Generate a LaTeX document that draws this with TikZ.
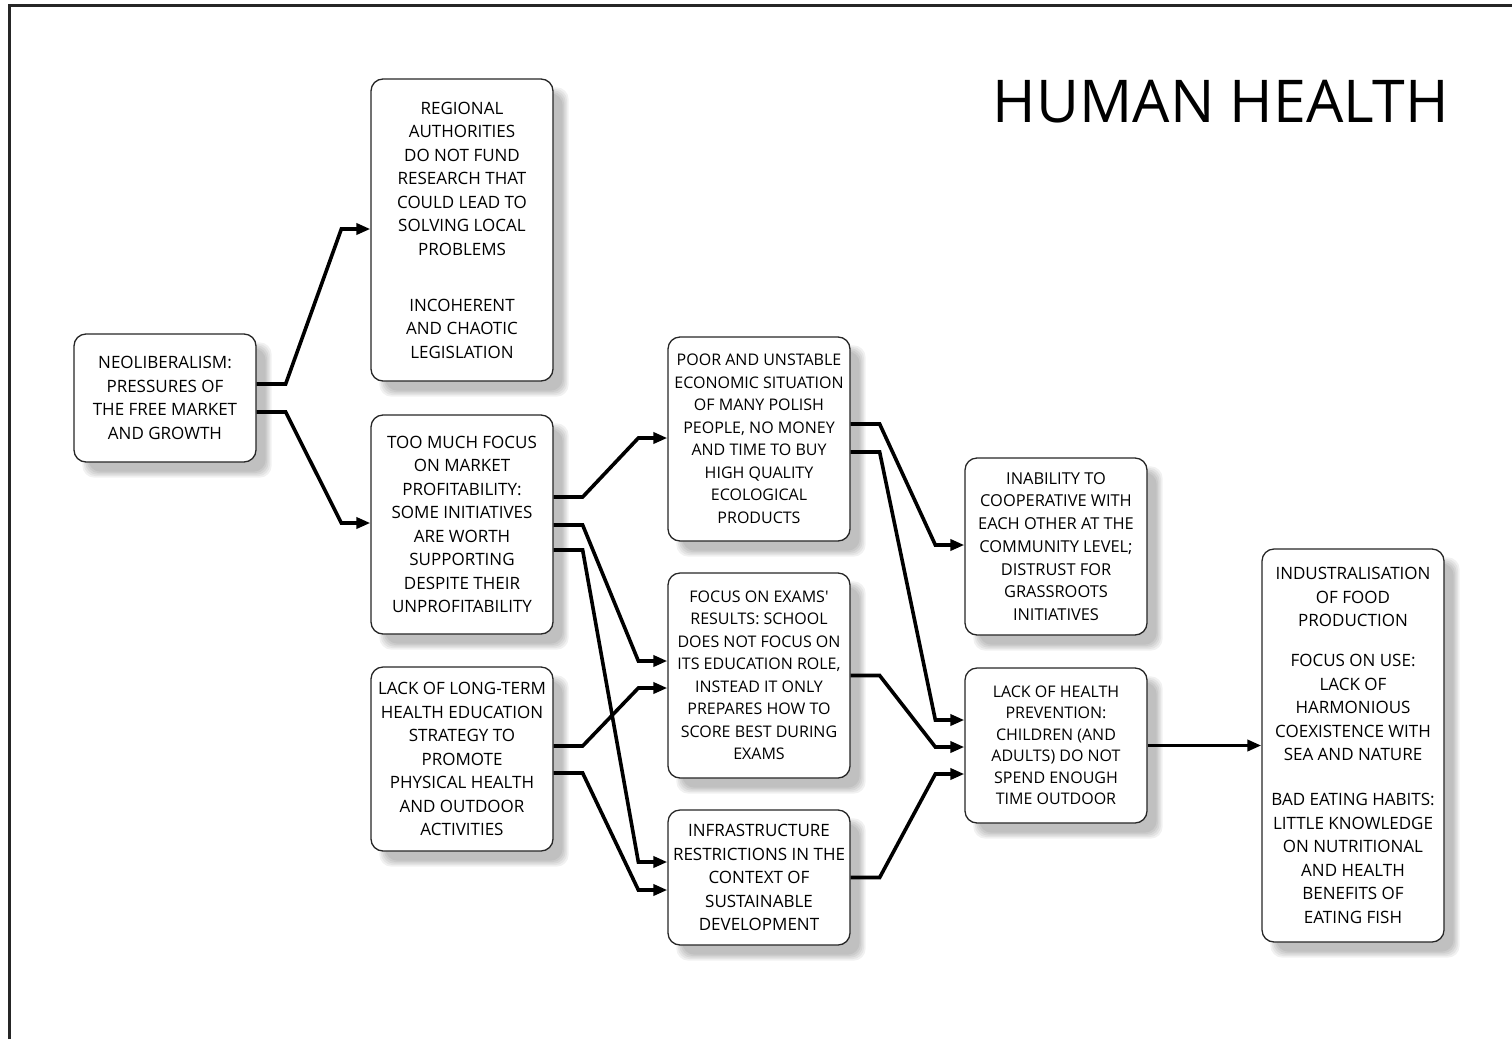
\documentclass[tikz,border=0pt]{standalone}
\usepackage{fontspec}
\setmainfont{Open Sans}[Ligatures=TeXOff]
\usetikzlibrary{arrows.meta,backgrounds}

\tikzset{
  box/.style={draw=black!85, line width=1.3pt, rounded corners=12pt, fill=white,
    minimum width=182pt, align=center, inner sep=0pt,
    font=\fontsize{17}{23.5}\selectfont},
  boxsm/.style={box, font=\fontsize{16}{22.5}\selectfont},
  conn/.style={line width=3.6pt, -{Triangle[length=14pt,width=11pt]}},
  frame/.style={line width=3pt, black!85},
}

\begin{document}
\begin{tikzpicture}[x=1pt,y=-1pt]
\useasboundingbox (0,0) rectangle (1512,1039);

% outer frame (only left and top edges fall inside the page)
\draw[frame] (9,1039) -- (9,5) -- (1512,5);

% title
\node[anchor=base, font=\fontsize{59}{70}\selectfont] (title) at (1221,122) {HUMAN HEALTH};

% boxes
\node[box, minimum height=128pt] (neo) at (165,398)
  {NEOLIBERALISM:\\PRESSURES OF\\THE FREE MARKET\\AND GROWTH};
\node[box, minimum height=302pt] (reg) at (462,230)
  {REGIONAL\\AUTHORITIES\\DO NOT FUND\\RESEARCH THAT\\COULD LEAD TO\\SOLVING LOCAL\\PROBLEMS\\[32.5pt]INCOHERENT\\AND CHAOTIC\\LEGISLATION};
\node[box, minimum height=219pt] (too) at (462,524.5)
  {TOO MUCH FOCUS\\ON MARKET\\PROFITABILITY:\\SOME INITIATIVES\\ARE WORTH\\SUPPORTING\\DESPITE THEIR\\UNPROFITABILITY};
\node[box, minimum height=184pt] (lack) at (462,759)
  {LACK OF LONG-TERM\\HEALTH EDUCATION\\STRATEGY TO\\PROMOTE\\PHYSICAL HEALTH\\AND OUTDOOR\\ACTIVITIES};
\node[boxsm, minimum height=204pt] (poor) at (759,439)
  {POOR AND UNSTABLE\\ECONOMIC SITUATION\\OF MANY POLISH\\PEOPLE, NO MONEY\\AND TIME TO BUY\\HIGH QUALITY\\ECOLOGICAL\\PRODUCTS};
\node[boxsm, minimum height=205pt] (exam) at (759,675.5)
  {FOCUS ON EXAMS'\\RESULTS: SCHOOL\\DOES NOT FOCUS ON\\ITS EDUCATION ROLE,\\INSTEAD IT ONLY\\PREPARES HOW TO\\SCORE BEST DURING\\EXAMS};
\node[box, minimum height=135pt] (infra) at (759,877.5)
  {INFRASTRUCTURE\\RESTRICTIONS IN THE\\CONTEXT OF\\SUSTAINABLE\\DEVELOPMENT};
\node[box, minimum height=177pt, font=\fontsize{16.4}{22.7}\selectfont] (inab) at (1056,546.5)
  {INABILITY TO\\COOPERATIVE WITH\\EACH OTHER AT THE\\COMMUNITY LEVEL;\\DISTRUST FOR\\GRASSROOTS\\INITIATIVES};
\node[box, minimum height=155pt, font=\fontsize{16}{21.5}\selectfont] (prev) at (1056,745.5)
  {LACK OF HEALTH\\PREVENTION:\\CHILDREN (AND\\ADULTS) DO NOT\\SPEND ENOUGH\\TIME OUTDOOR};
\node[box, minimum height=393pt] (indu) at (1353,745.5)
  {INDUSTRALISATION\\OF FOOD\\PRODUCTION\\[16.5pt]FOCUS ON USE:\\LACK OF\\HARMONIOUS\\COEXISTENCE WITH\\SEA AND NATURE\\[21.5pt]BAD EATING HABITS:\\LITTLE KNOWLEDGE\\ON NUTRITIONAL\\AND HEALTH\\BENEFITS OF\\EATING FISH};

% soft drop shadows
\begin{pgfonlayer}{background}
\foreach \n in {neo,reg,too,lack,poor,exam,infra,inab,prev,indu}{
  \foreach \i in {-3,-1.5,0,1.5,3}{
    \fill[black, opacity=0.055, rounded corners=12pt]
      ([shift={(12+\i,12+\i)}]\n.north west) rectangle ([shift={(12-\i,12-\i)}]\n.south east);
  }
}
\end{pgfonlayer}

% connectors
\draw[conn] ([yshift=14pt]neo.east) -- ++(29,0) -- ([xshift=-29pt,yshift=1pt]reg.west) -- ([yshift=1pt]reg.west);
\draw[conn] ([yshift=-14pt]neo.east) -- ++(29,0) -- ([xshift=-29pt,yshift=1.5pt]too.west) -- ([yshift=1.5pt]too.west);

\draw[conn] ([yshift=27.5pt]too.east) -- ++(29,0) -- ([xshift=-29pt,yshift=1pt]poor.west) -- ([yshift=1pt]poor.west);
\draw[conn] ([yshift=-0.5pt]too.east) -- ++(29,0) -- ([xshift=-29pt,yshift=14.5pt]exam.west) -- ([yshift=14.5pt]exam.west);
\draw[conn] ([yshift=-25.5pt]too.east) -- ++(29,0) -- ([xshift=-29pt,yshift=15.5pt]infra.west) -- ([yshift=15.5pt]infra.west);

\draw[conn] ([yshift=13pt]lack.east) -- ++(29,0) -- ([xshift=-29pt,yshift=-12.5pt]exam.west) -- ([yshift=-12.5pt]exam.west);
\draw[conn] ([yshift=-14pt]lack.east) -- ++(29,0) -- ([xshift=-29pt,yshift=-12.5pt]infra.west) -- ([yshift=-12.5pt]infra.west);

\draw[conn] ([yshift=15pt]poor.east) -- ++(29,0) -- ([xshift=-29pt,yshift=1.5pt]inab.west) -- ([yshift=1.5pt]inab.west);
\draw[conn] ([yshift=-13pt]poor.east) -- ++(29,0) -- ([xshift=-29pt,yshift=25.5pt]prev.west) -- ([yshift=25.5pt]prev.west);
\draw[conn] (exam.east) -- ++(29,0) -- ([xshift=-29pt,yshift=-1.5pt]prev.west) -- ([yshift=-1.5pt]prev.west);
\draw[conn] (infra.east) -- ++(29,0) -- ([xshift=-29pt,yshift=-28.5pt]prev.west) -- ([yshift=-28.5pt]prev.west);

\draw[conn] (prev.east) -- (indu.west);
\end{tikzpicture}
\end{document}
